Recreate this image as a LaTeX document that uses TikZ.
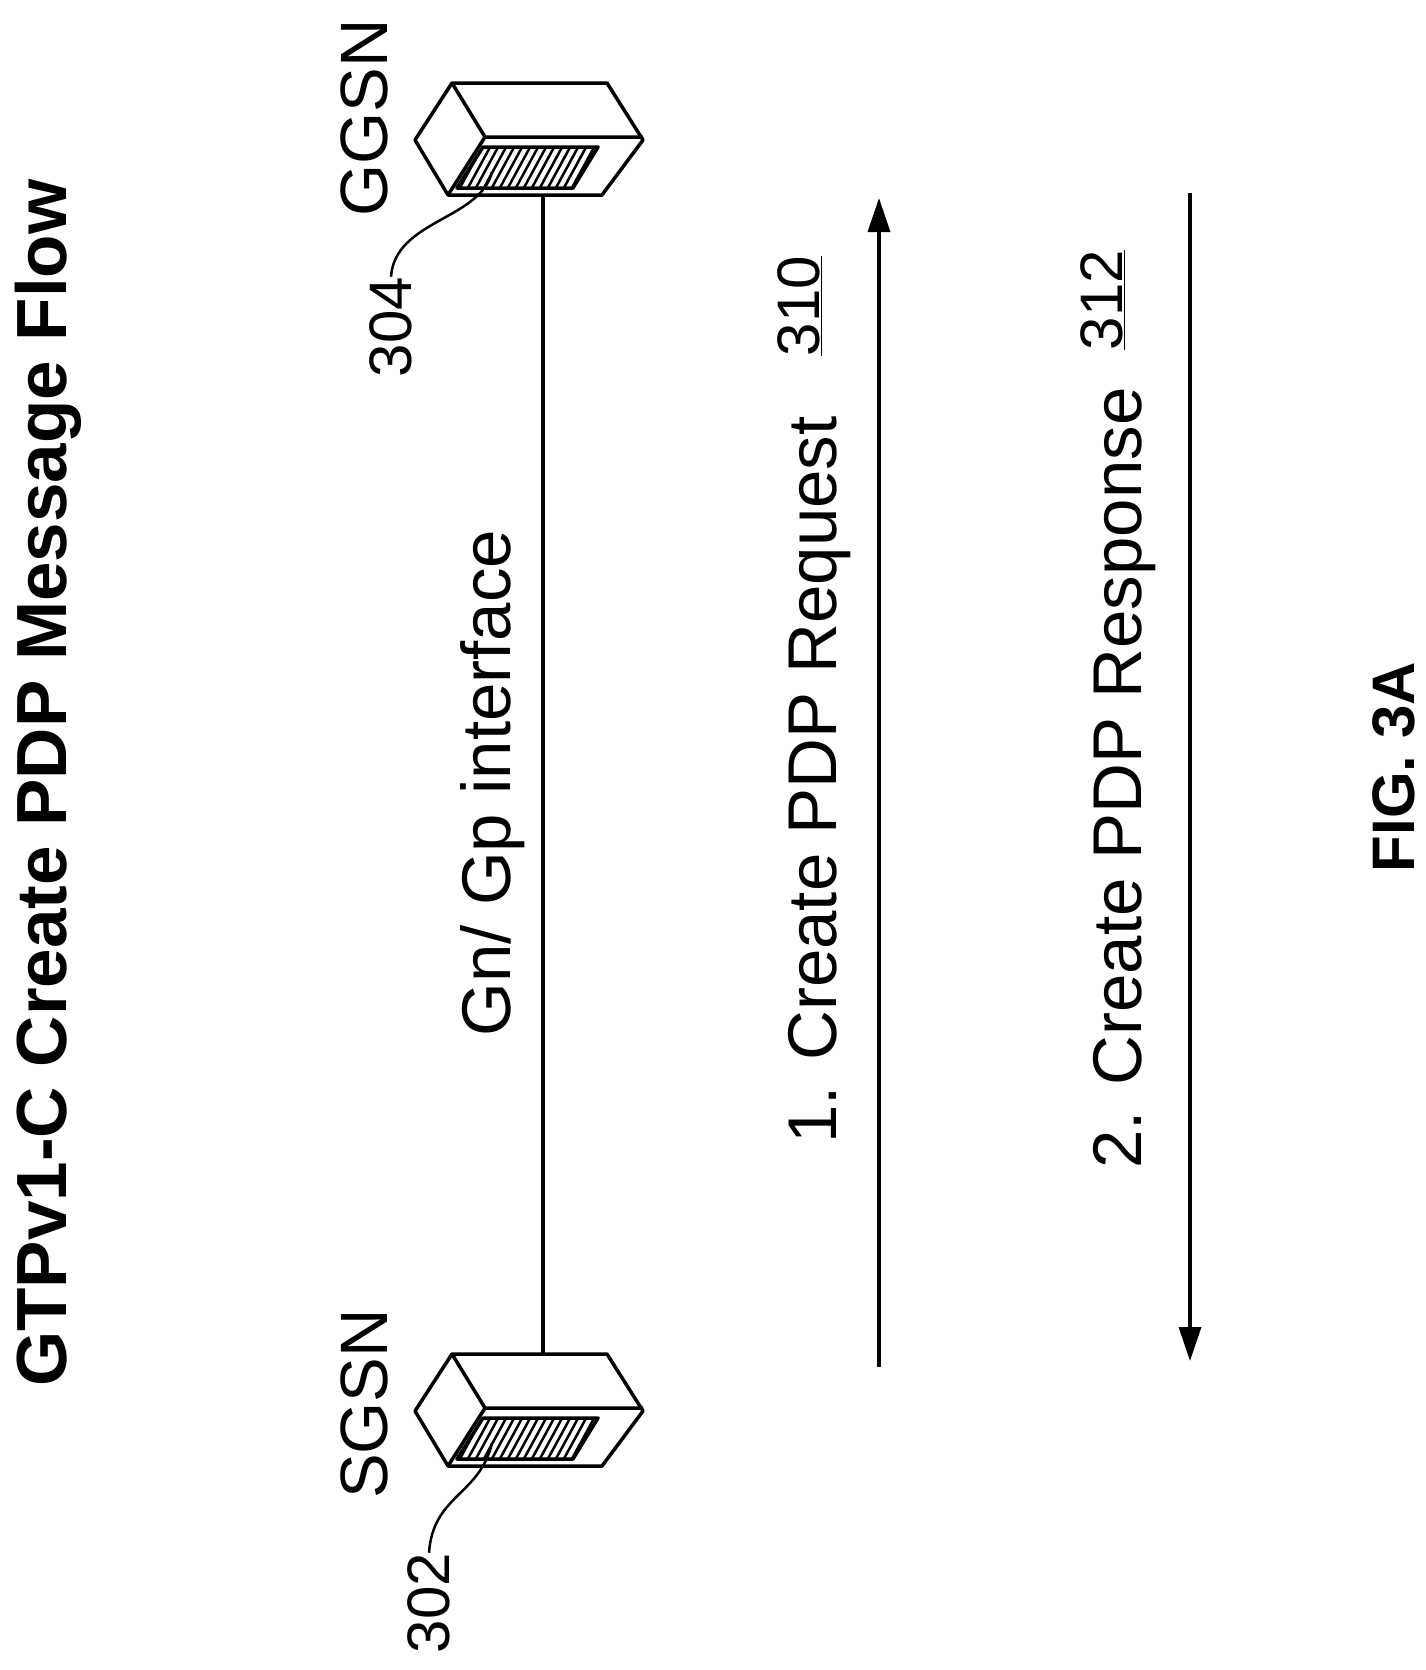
\documentclass[tikz,border=0pt]{standalone}
\usepackage{fontspec}
\setmainfont{Liberation Sans}
\usetikzlibrary{arrows.meta}

\tikzset{
    lbl/.style = {rotate=90, inner sep=0pt, font=\fontsize{69}{80}\selectfont},
    num/.style = {rotate=90, inner sep=0pt, font=\fontsize{60}{70}\selectfont},
    msg/.style = {line width=3.5pt, -{Stealth[length=34pt, width=22pt, inset=0pt]}},
}

\newcommand{\gsnbox}[2]{%
  \begin{scope}[shift={(0,#2)}, line width=3.5pt, line join=round]
    \draw (452,83) -- (607,83) -- (643,140) -- (602,195) -- (448,195) -- (415,140) -- cycle;
    \draw (452,83) -- (485,137) -- (643,137);
    \draw (485,137) -- (448,195);
    \begin{scope}
      \clip (483,147) -- (598,147) -- (573,188) -- (457,188) -- cycle;
      \foreach \i in {0,...,18}
        \draw[line width=2.5pt] (440+8*\i,195) -- (470+8*\i,140);
    \end{scope}
    \draw (483,147) -- (598,147) -- (573,188) -- (457,188) -- cycle;
    \coordinate (#1-top) at (543,83);
    \coordinate (#1-bot) at (543,195);
    \coordinate (#1-hatch) at (492,172);
  \end{scope}%
}

\begin{document}
\begin{tikzpicture}[x=1pt, y=-1pt]
\useasboundingbox (0,0) rectangle (1426,1670);

% title
\node[rotate=90, font=\fontsize{71}{80}\selectfont\bfseries] (title) at (48,783) {GTPv1-C Create PDP Message Flow};

% the two nodes
\gsnbox{ggsn}{0}
\gsnbox{sgsn}{1271}
\node[lbl, font=\fontsize{67}{80}\selectfont] (ggsnlbl) at (364,118) {GGSN};
\node[lbl, font=\fontsize{67}{80}\selectfont] (sgsnlbl) at (364,1404) {SGSN};

% reference numerals
\node[num] (n304) at (391,327) {304};
\node[num] (n302) at (429,1603) {302};
\draw[line width=2.5pt] (n304.east) .. controls (395,220) and (480,220) .. (ggsn-hatch);
\draw[line width=2.5pt] (n302.east) .. controls (433,1495) and (480,1495) .. (sgsn-hatch);

% interface
\draw[line width=3.5pt] (ggsn-bot) -- (sgsn-top);
\node[lbl] (iface) at (493,783) {Gn/ Gp interface};

% messages
\coordinate (req-a) at (879,1367);
\coordinate (req-b) at (879,198);
\coordinate (rsp-a) at (1190,193);
\coordinate (rsp-b) at (1190,1361);
\draw[msg] (req-a) -- (req-b);
\draw[msg] (rsp-a) -- (rsp-b);
\node[lbl] (reqlbl) at (820,780) {1. Create PDP Request};
\node[num] (n310) at (800,306) {\underline{310}};
\node[lbl] (rsplbl) at (1125,778) {2. Create PDP Response};
\node[num] (n312) at (1103,300) {\underline{312}};

% figure label
\node[rotate=90, font=\fontsize{60}{70}\selectfont\bfseries] (fig) at (1394,767) {FIG. 3A};
\end{tikzpicture}
\end{document}
